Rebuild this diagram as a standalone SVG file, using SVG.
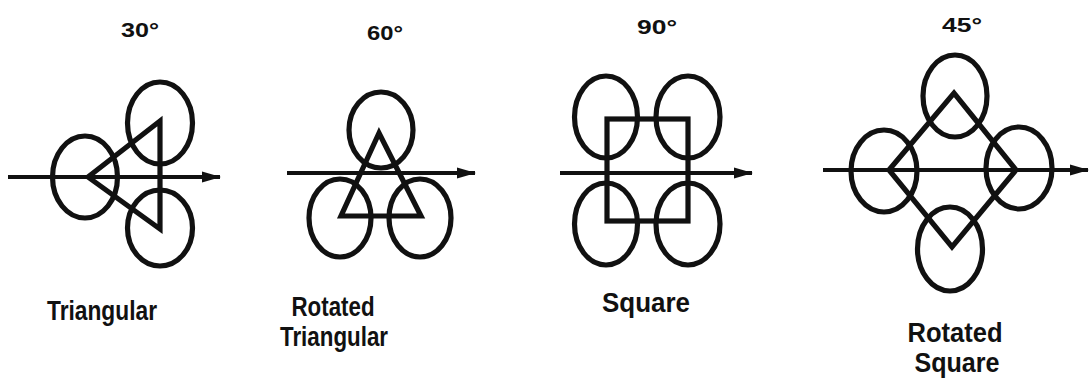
<svg xmlns="http://www.w3.org/2000/svg" width="1089" height="380" viewBox="0 0 1089 380">
<defs>
<style>
.c{fill:none;stroke:#111;stroke-width:5.2}
.p{fill:none;stroke:#111;stroke-width:5.2;stroke-linejoin:miter}
.a{fill:none;stroke:#111;stroke-width:4.2}
.t{font-family:"Liberation Sans",Arial,sans-serif;font-weight:bold;fill:#111;text-anchor:middle}
.deg{font-size:21px}
.lab{font-size:27px}
</style>
<marker id="ah" markerUnits="userSpaceOnUse" markerWidth="20" markerHeight="14" refX="18" refY="7" orient="auto">
<path d="M0,1.5 L19,7 L0,12.5 Z" fill="#111"/>
</marker>
</defs>
<rect width="1089" height="380" fill="#fff"/>

<g id="triangular">
<text class="t deg" x="140" y="37" textLength="38" lengthAdjust="spacingAndGlyphs">30°</text>
<ellipse class="c" cx="85" cy="177" rx="32.5" ry="41"/>
<ellipse class="c" cx="160" cy="123" rx="32.5" ry="41"/>
<ellipse class="c" cx="160" cy="228" rx="32.5" ry="38"/>
<polygon class="p" points="88,177 160,121 160,229"/>
<text class="t lab" x="102" y="320" textLength="110" lengthAdjust="spacingAndGlyphs">Triangular</text>
</g>

<g id="rotated-triangular">
<text class="t deg" x="385" y="40" textLength="36" lengthAdjust="spacingAndGlyphs">60°</text>
<ellipse class="c" cx="381" cy="130" rx="32" ry="38"/>
<ellipse class="c" cx="340" cy="218" rx="31" ry="39"/>
<ellipse class="c" cx="420" cy="218" rx="31" ry="39"/>
<polygon class="p" points="379,133 341,216 421,216"/>
<text class="t lab" x="333" y="316" textLength="83" lengthAdjust="spacingAndGlyphs">Rotated</text>
<text class="t lab" x="334" y="346" textLength="108" lengthAdjust="spacingAndGlyphs">Triangular</text>
</g>

<g id="square">
<text class="t deg" x="657" y="34" textLength="40" lengthAdjust="spacingAndGlyphs">90°</text>
<ellipse class="c" cx="606" cy="117" rx="31.5" ry="41"/>
<ellipse class="c" cx="688" cy="117" rx="32" ry="41"/>
<ellipse class="c" cx="606" cy="224" rx="31.5" ry="41"/>
<ellipse class="c" cx="688" cy="224" rx="32" ry="41"/>
<rect class="p" x="607" y="119" width="81" height="102"/>
<text class="t lab" x="646" y="312" textLength="88" lengthAdjust="spacingAndGlyphs">Square</text>
</g>

<g id="rotated-square">
<text class="t deg" x="962" y="32" textLength="40" lengthAdjust="spacingAndGlyphs">45°</text>
<ellipse class="c" cx="955" cy="96" rx="32" ry="41"/>
<ellipse class="c" cx="950" cy="249" rx="32.5" ry="42"/>
<ellipse class="c" cx="884" cy="171" rx="33" ry="41"/>
<ellipse class="c" cx="1019" cy="168" rx="33" ry="41"/>
<polygon class="p" points="889,170 954,93 1016,170 952,247"/>
<text class="t lab" x="955" y="342" textLength="95" lengthAdjust="spacingAndGlyphs">Rotated</text>
<text class="t lab" x="957" y="372" textLength="85" lengthAdjust="spacingAndGlyphs">Square</text>
</g>

<g id="connectors">
<line class="a" x1="8" y1="177" x2="220" y2="177" marker-end="url(#ah)"/>
<line class="a" x1="287" y1="173" x2="475" y2="173" marker-end="url(#ah)"/>
<line class="a" x1="560" y1="173" x2="752" y2="173" marker-end="url(#ah)"/>
<line class="a" x1="823" y1="170" x2="1088" y2="170" marker-end="url(#ah)"/>
</g>
</svg>
